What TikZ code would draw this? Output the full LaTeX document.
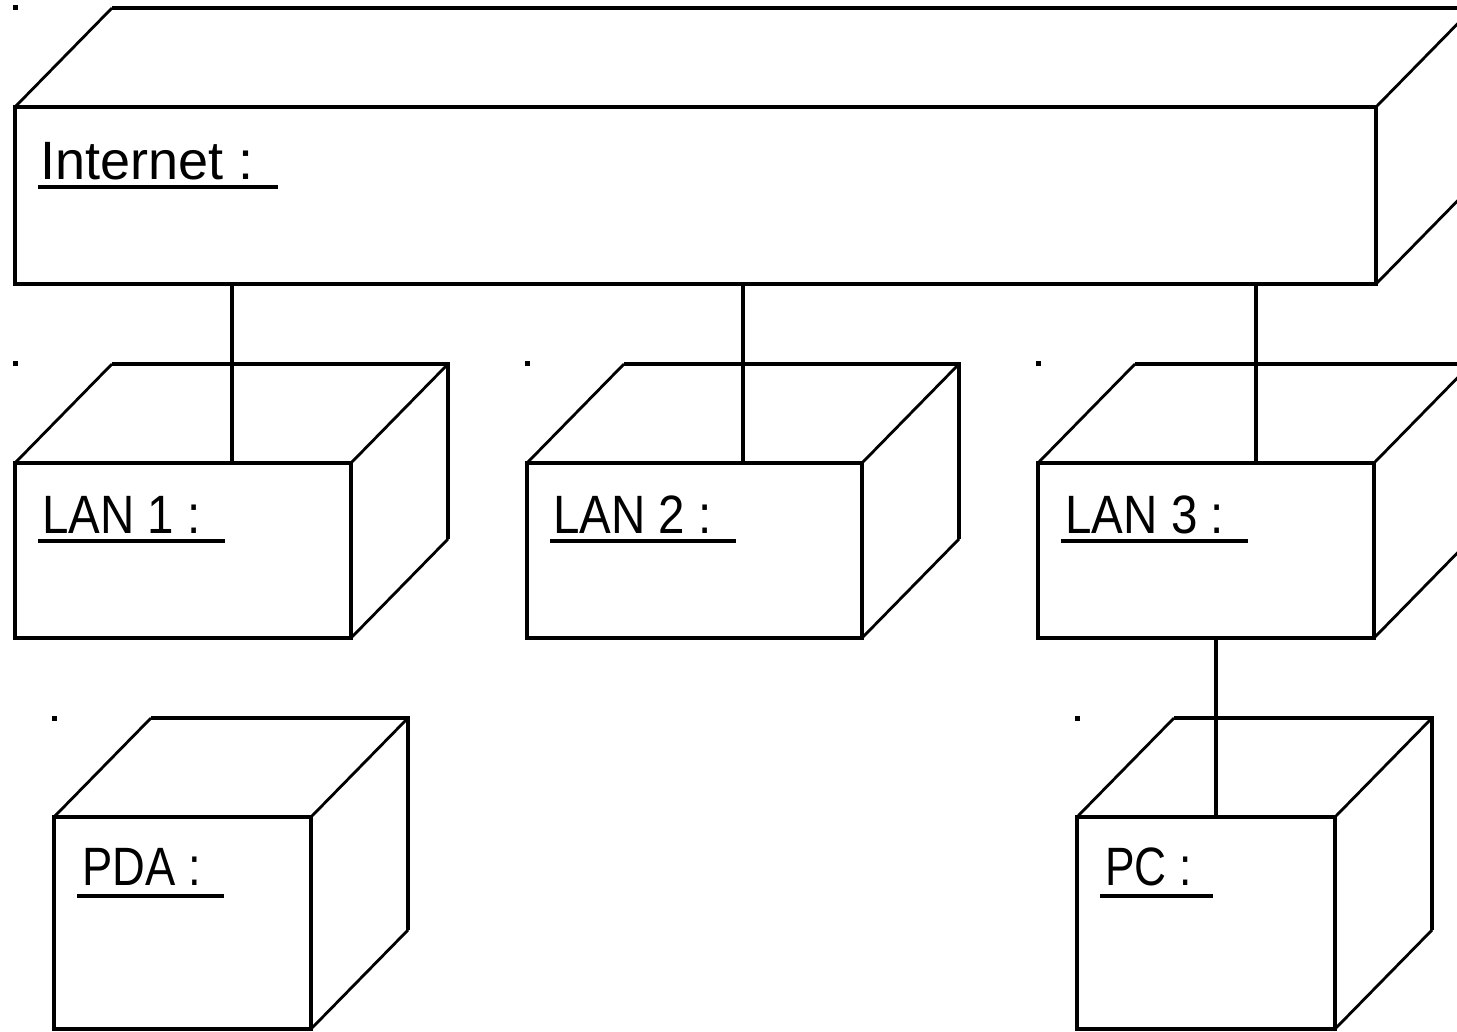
\documentclass[tikz,border=0pt]{standalone}
\usepackage{fontspec}
\setmainfont{Liberation Sans}
\usepackage{graphicx}

% depth of the node boxes (right and up), in pixel units
\newcommand\dpx{97}
\newcommand\dpy{-99}

% back faces of a node box: receding edges, back edges, corner mark
\newcommand\boxback[1]{%
  \draw[recede] (#1.north west) -- ++(\dpx,\dpy);
  \draw[recede] (#1.north east) -- ++(\dpx,\dpy);
  \draw[recede] (#1.south east) -- ++(\dpx,\dpy);
  \draw[edge] ([shift={(\dpx,\dpy)}]#1.north west) -- ([shift={(\dpx,\dpy)}]#1.north east)
              -- ([shift={(\dpx,\dpy)}]#1.south east);
  \fill ([shift={(-2.5,\dpy-2.5)}]#1.north west) rectangle ++(5,5);
}

\begin{document}
\begin{tikzpicture}[x=0.5pt,y=-0.5pt,
  front/.style={draw, line width=2pt, inner sep=0pt, outer sep=0pt, anchor=north west},
  edge/.style={line width=2pt},
  recede/.style={line width=1.4pt},
  link/.style={line width=2pt},
  uline/.style={line width=1.8pt},
  lbl/.style={inner sep=0pt, anchor=base west, font=\fontsize{27}{30}\selectfont}]

\useasboundingbox (0,0) rectangle (1457,1032);
\clip (0,0) rectangle (1457,1032);
\fill[white] (0,0) rectangle (1457,1032);

% front faces
\node[front, minimum width=680.5pt, minimum height=88.5pt] (internet) at (15,107) {};
\node[front, minimum width=168pt, minimum height=87.5pt] (lan1) at (15,463) {};
\node[front, minimum width=167.5pt, minimum height=87.5pt] (lan2) at (527,463) {};
\node[front, minimum width=168pt, minimum height=87.5pt] (lan3) at (1038,463) {};
\node[front, minimum width=128.5pt, minimum height=106pt] (pda) at (54,817) {};
\node[front, minimum width=129pt, minimum height=106pt] (pc) at (1077,817) {};

% depth of each box
\boxback{internet}
\boxback{lan1}
\boxback{lan2}
\boxback{lan3}
\boxback{pda}
\boxback{pc}

% instance names, underlined
\node[lbl] (internet-name) at (40,180) {Internet :};
\draw[uline] (38,187) -- (278,187);
\node[lbl] (lan1-name) at (42,533) {\scalebox{0.88}[1]{LAN 1 :}};
\draw[uline] (38,541) -- (225,541);
\node[lbl] (lan2-name) at (553,533) {\scalebox{0.88}[1]{LAN 2 :}};
\draw[uline] (550,541) -- (736,541);
\node[lbl] (lan3-name) at (1065,533) {\scalebox{0.88}[1]{LAN 3 :}};
\draw[uline] (1061,541) -- (1248,541);
\node[lbl] (pda-name) at (82,885) {\scalebox{0.84}[1]{PDA :}};
\draw[uline] (77,896) -- (224,896);
\node[lbl] (pc-name) at (1105,885) {\scalebox{0.82}[1]{PC :}};
\draw[uline] (1100,896) -- (1213,896);

% connections
\coordinate (x1) at (232,0);
\coordinate (x2) at (743,0);
\coordinate (x3) at (1256,0);
\coordinate (x4) at (1216,0);
\draw[link] (x1 |- internet.south) -- (x1 |- lan1.north);
\draw[link] (x2 |- internet.south) -- (x2 |- lan2.north);
\draw[link] (x3 |- internet.south) -- (x3 |- lan3.north);
\draw[link] (x4 |- lan3.south) -- (x4 |- pc.north);
\end{tikzpicture}
\end{document}
